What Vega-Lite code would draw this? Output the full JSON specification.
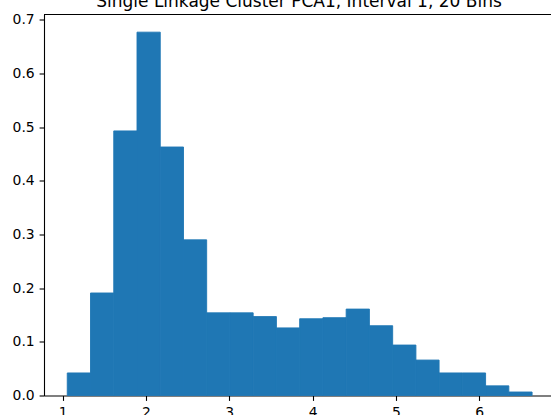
{
  "$schema": "https://vega.github.io/schema/vega-lite/v6.json",
  "autosize": "none",
  "padding": {"left": 44, "top": 14.5, "right": 0, "bottom": 19.5},
  "width": 507,
  "height": 381,
  "background": "white",
  "config": {
    "view": {"stroke": null},
    "font": "DejaVu Sans",
    "axis": {
      "grid": false,
      "domainColor": "black",
      "domainWidth": 1.1,
      "tickColor": "black",
      "tickWidth": 1.1,
      "tickSize": 4.9,
      "labelPadding": 4.9,
      "labelFont": "DejaVu Sans",
      "labelFontSize": 13.9,
      "labelColor": "black",
      "title": null
    }
  },
  "title": {
    "text": "Single Linkage Cluster PCA1, Interval 1, 20 Bins",
    "font": "DejaVu Sans",
    "fontSize": 17,
    "fontWeight": "normal",
    "color": "black",
    "anchor": "middle",
    "frame": "group",
    "baseline": "alphabetic",
    "offset": 0,
    "dx": 1.5,
    "dy": 10.7
  },
  "data": {
    "values": [
      {"bin_start": 1.056, "bin_end": 1.335, "density": 0.042},
      {"bin_start": 1.335, "bin_end": 1.614, "density": 0.191},
      {"bin_start": 1.614, "bin_end": 1.893, "density": 0.493},
      {"bin_start": 1.893, "bin_end": 2.172, "density": 0.677},
      {"bin_start": 2.172, "bin_end": 2.451, "density": 0.463},
      {"bin_start": 2.451, "bin_end": 2.729, "density": 0.290},
      {"bin_start": 2.729, "bin_end": 3.008, "density": 0.154},
      {"bin_start": 3.008, "bin_end": 3.287, "density": 0.154},
      {"bin_start": 3.287, "bin_end": 3.566, "density": 0.147},
      {"bin_start": 3.566, "bin_end": 3.845, "density": 0.126},
      {"bin_start": 3.845, "bin_end": 4.124, "density": 0.143},
      {"bin_start": 4.124, "bin_end": 4.403, "density": 0.145},
      {"bin_start": 4.403, "bin_end": 4.682, "density": 0.161},
      {"bin_start": 4.682, "bin_end": 4.961, "density": 0.130},
      {"bin_start": 4.961, "bin_end": 5.240, "density": 0.094},
      {"bin_start": 5.240, "bin_end": 5.518, "density": 0.066},
      {"bin_start": 5.518, "bin_end": 5.797, "density": 0.042},
      {"bin_start": 5.797, "bin_end": 6.076, "density": 0.042},
      {"bin_start": 6.076, "bin_end": 6.355, "density": 0.018},
      {"bin_start": 6.355, "bin_end": 6.634, "density": 0.0065}
    ]
  },
  "layer": [
    {
      "mark": {"type": "rect", "color": "#1f77b4", "stroke": "#1f77b4", "strokeWidth": 0.9},
      "encoding": {
        "x": {
          "field": "bin_start",
          "type": "quantitative",
          "scale": {"domain": [0.777, 6.861], "nice": false, "zero": false},
          "axis": {"values": [1, 2, 3, 4, 5, 6], "format": "d"}
        },
        "x2": {"field": "bin_end"},
        "y": {
          "field": "density",
          "type": "quantitative",
          "scale": {"domain": [0, 0.7099], "nice": false, "zero": true},
          "axis": {"values": [0, 0.1, 0.2, 0.3, 0.4, 0.5, 0.6, 0.7], "format": ".1f"}
        },
        "y2": {"datum": 0}
      }
    },
    {
      "mark": {"type": "rule", "color": "black", "strokeWidth": 1.1},
      "encoding": {
        "y": {"datum": 0.7099, "type": "quantitative"}
      }
    }
  ]
}
